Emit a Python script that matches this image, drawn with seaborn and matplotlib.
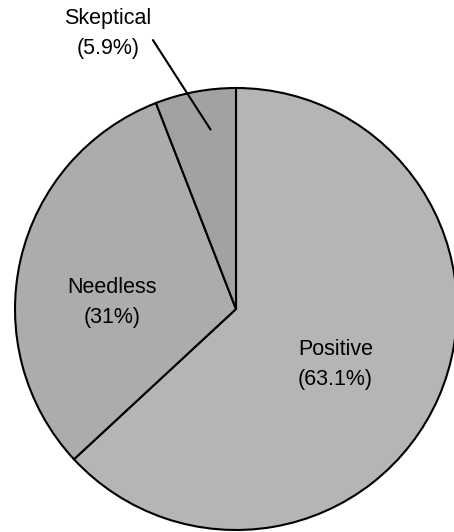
import numpy as np
import matplotlib
matplotlib.use('Agg')
import matplotlib.pyplot as plt
import seaborn as sns

# data
labels = ['Positive', 'Needless', 'Skeptical']
shares = [63.1, 31, 5.9]
pct_text = ['63.1%', '31%', '5.9%']
colors = ['#b5b5b5', '#acacac', '#a2a2a2']

sns.set_theme(style='white')
plt.rcParams['font.family'] = ['Liberation Sans', 'DejaVu Sans']
plt.rcParams['text.color'] = 'black'

fig = plt.figure(figsize=(4.54, 5.32), dpi=100)
ax = fig.add_axes([0, 0, 1, 1])

wedges, _ = ax.pie(shares, colors=colors, startangle=90, counterclock=False,
                   wedgeprops={'edgecolor': 'black', 'linewidth': 1.5})

# pixel frame: centre at (236, 309), radius 221 px
r_px = 221
ax.set_xlim(-236 / r_px, (454 - 236) / r_px)
ax.set_ylim(-(532 - 309) / r_px, 309 / r_px)
ax.set_aspect('equal')
ax.axis('off')

fs = 15.5
ls = 1.55
ax.text(0.45, -0.25, f'{labels[0]}\n({pct_text[0]})', ha='center', va='center',
        fontsize=fs, linespacing=ls)
ax.text(-0.56, 0.03, f'{labels[1]}\n({pct_text[1]})', ha='center', va='center',
        fontsize=fs, linespacing=ls)

# Skeptical label sits outside, with a leader line into the wedge
w = wedges[2]
lo, hi = min(w.theta1, w.theta2), max(w.theta1, w.theta2)
ang = np.deg2rad(lo + 0.38 * (hi - lo))
target = (0.82 * np.cos(ang), 0.82 * np.sin(ang))
ax.text(-0.58, 1.245, f'{labels[2]}\n({pct_text[2]})', ha='center', va='center',
        fontsize=fs, linespacing=ls)
ax.plot([-0.376, target[0]], [1.217, target[1]], color='black', lw=1.5)

fig.savefig('out.png', dpi=100)
